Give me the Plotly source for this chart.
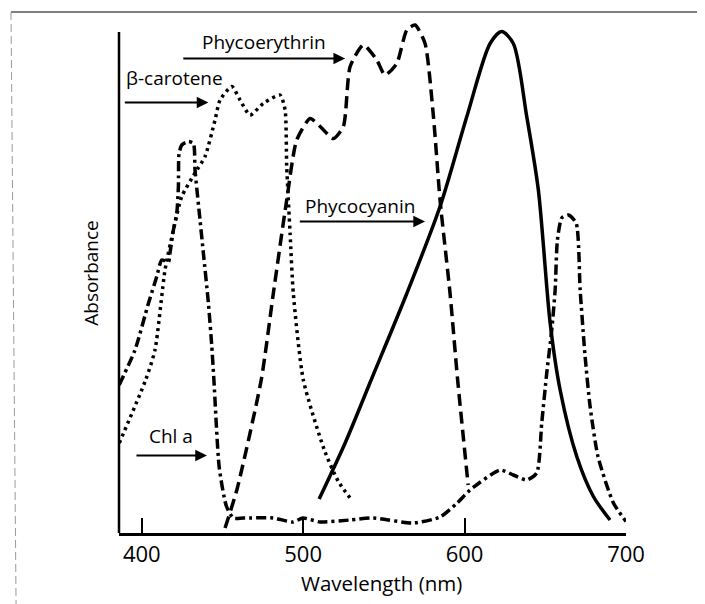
import plotly.graph_objects as go

# ---------------- data ----------------
chl_wl = [386, 395.8, 404.1, 409.3, 412.4, 416.5, 417.5, 419.6, 421.7, 422.7, 423.1, 424.8,
          428.9, 432.0, 433.0, 436.1, 438.2, 441.3, 443.4, 444.7, 448.0, 452.4, 456.7, 462.8,
          481.4, 493.7, 499.9, 510.5, 529.1, 543.3, 568.1, 584.8, 595.4, 603.4, 622.0, 630.2,
          638.5, 644.7, 647.8, 650.9, 654.0, 656.1, 657.5, 660.2, 664.3, 669.1, 671.6, 674.7,
          677.8, 682.7, 692.2, 700]
chl_abs = [29.6, 36.6, 45.9, 51.3, 54.6, 54.2, 56.0, 60.6, 64.0, 69.3, 75.9, 77.6,
           78.3, 77.9, 72.6, 62.6, 55.9, 45.9, 37.3, 30.6, 13.1, 5.4, 3.0, 3.0,
           3.0, 2.2, 3.0, 2.2, 2.6, 3.0, 2.0, 3.2, 6.0, 8.6, 12.6, 11.6,
           10.6, 12.0, 22.0, 32.0, 40.6, 48.6, 58.6, 63.0, 63.6, 62.0, 48.6, 35.2,
           25.2, 15.2, 6.0, 2.3]

car_wl = [386.1, 402.4, 408.2, 414.4, 419.6, 424.8, 433.0, 439.2, 445.4, 448.5, 455.8, 460.9,
          467.1, 475.3, 485.7, 488.8, 489.8, 491.9, 493.9, 500.1, 513.1, 521.8, 530.5]
car_abs = [18.0, 30.6, 36.6, 52.6, 60.6, 67.3, 72.0, 75.3, 82.6, 86.6, 89.3, 86.6,
           83.6, 85.9, 87.6, 84.6, 73.3, 59.9, 47.9, 30.6, 16.6, 10.3, 6.4]

pe_wl = [451.6, 458.9, 474.0, 481.5, 489.8, 496.0, 504.3, 510.5, 518.7, 524.9, 529.1, 537.3,
         545.6, 550.7, 558.0, 564.2, 569.3, 575.5, 580.7, 584.8, 591.0, 595.7, 602.2]
pe_abs = [1.0, 8.6, 30.6, 47.9, 66.6, 78.6, 82.9, 81.3, 78.9, 81.3, 93.3, 97.6,
          94.6, 91.6, 93.9, 100.6, 101.6, 97.9, 83.3, 66.6, 47.9, 30.6, 9.6]

pc_wl = [509.9, 526.0, 542.1, 564.2, 584.8, 601.4, 615.8, 623.0, 630.2, 638.5, 645.7, 653.0,
         659.2, 669.5, 679.8, 690.1]
pc_abs = [6.8, 18.0, 30.6, 47.9, 65.3, 83.3, 97.9, 100.3, 97.9, 83.3, 68.6, 42.0,
          28.6, 15.3, 7.3, 2.6]

tick_vals = [400, 500, 600, 700]
tick_text = ["400", "500", "600", "700"]

# label text, left x of text, y of text, arrow start x, arrow end x, arrow y
labels = ["Phycoerythrin", "β-carotene", "Phycocyanin", "Chl a"]
label_x = [436.1, 388.7, 499.9, 403.3]
label_y = [98.2, 91.0, 65.4, 19.4]
arrow_x0 = [424.8, 388.6, 497.0, 395.8]
arrow_x1 = [526.0, 441.3, 575.5, 440.4]
arrow_y = [94.9, 86.1, 62.3, 15.5]

x_title = "Wavelength (nm)"
y_title = "Absorbance"

FONT = "Open Sans"
LW = 3.5

fig = go.Figure()
fig.add_trace(go.Scatter(x=chl_wl, y=chl_abs, mode="lines", name="Chl a",
                         line=dict(color="black", width=LW, dash="10px,4px,3px,4px",
                                   shape="spline", smoothing=0.6)))
fig.add_trace(go.Scatter(x=car_wl, y=car_abs, mode="lines", name="β-carotene",
                         line=dict(color="black", width=LW, dash="3px,4px",
                                   shape="spline", smoothing=0.6)))
fig.add_trace(go.Scatter(x=pe_wl, y=pe_abs, mode="lines", name="Phycoerythrin",
                         line=dict(color="black", width=LW, dash="12px,6px",
                                   shape="spline", smoothing=0.6)))
fig.add_trace(go.Scatter(x=pc_wl, y=pc_abs, mode="lines", name="Phycocyanin",
                         line=dict(color="black", width=LW,
                                   shape="spline", smoothing=0.8)))

annotations = []
for t, lx, ly, x0, x1, ay in zip(labels, label_x, label_y, arrow_x0, arrow_x1, arrow_y):
    annotations.append(dict(x=lx, y=ly, xref="x", yref="y", text=t, showarrow=False,
                            xanchor="left", yanchor="middle",
                            font=dict(family=FONT, size=19, color="black")))
    annotations.append(dict(x=x1, y=ay, xref="x", yref="y", ax=x0, ay=ay,
                            axref="x", ayref="y", text="", showarrow=True,
                            arrowhead=2, arrowsize=1.3, arrowwidth=1.8,
                            arrowcolor="black", standoff=0, startstandoff=0))
# x-axis title (placed as in the reference, slightly right of the plot centre)
annotations.append(dict(x=0.517, y=-0.096, xref="paper", yref="paper", text=x_title,
                        showarrow=False, xanchor="center", yanchor="middle",
                        font=dict(family=FONT, size=20.5, color="black")))

shapes = [
    # left axis line (ends below the top of the tallest peak)
    dict(type="line", xref="paper", yref="y", x0=0, x1=0, y0=0, y1=100.2,
         line=dict(color="black", width=2.5)),
    # scan border lines
    dict(type="line", xref="paper", yref="paper", x0=-0.213, x1=1.16, y0=1.002, y1=1.002,
         line=dict(color="#555555", width=1.5)),
    dict(type="line", xref="paper", yref="paper", x0=-0.213, x1=-0.203, y0=1.002, y1=-0.14,
         line=dict(color="#9a9a9a", width=1, dash="8px,4px")),
]

# the page body adds an 8px offset, so the figure is 8px smaller than the window
fig.update_layout(
    width=697, height=596, autosize=False,
    margin=dict(l=111, r=79, t=5, b=71),
    paper_bgcolor="white", plot_bgcolor="white",
    showlegend=False,
    font=dict(family=FONT, color="black"),
    annotations=annotations,
    shapes=shapes,
    xaxis=dict(range=[385.9, 700], showgrid=False, zeroline=False,
               showline=True, linecolor="black", linewidth=2.5,
               ticks="inside", ticklen=15, tickwidth=2, tickcolor="black",
               tickvals=tick_vals, ticktext=tick_text,
               tickfont=dict(family=FONT, size=22, color="black")),
    yaxis=dict(range=[0, 104], showgrid=False, zeroline=False, showline=False,
               showticklabels=False, ticks="",
               title=dict(text=y_title, standoff=14,
                          font=dict(family=FONT, size=19, color="black"))),
)

fig.write_html("out.html")
